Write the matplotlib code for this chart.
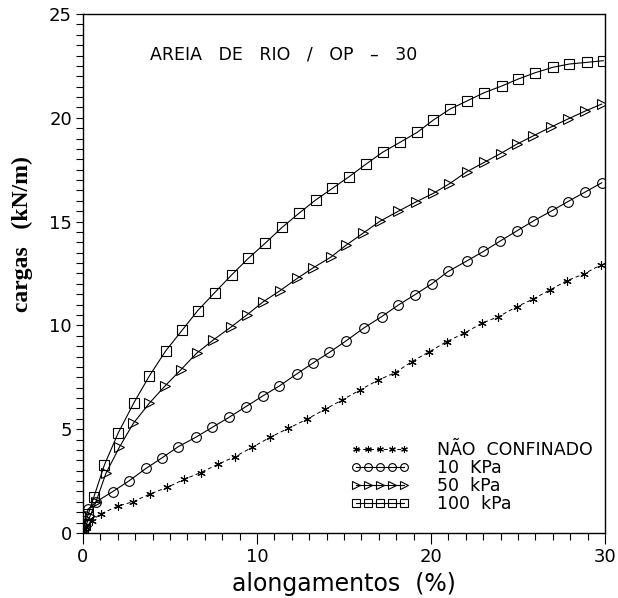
import matplotlib
matplotlib.use("Agg")
import matplotlib.pyplot as plt
from matplotlib.ticker import MultipleLocator

# alongamentos (%) / cargas (kN/m)
x_nc = [0, 0.2, 0.5, 1.01, 2.03, 2.89, 3.85, 4.85, 5.80, 6.76, 7.78, 8.74, 9.73, 10.75,
        11.80, 12.86, 13.91, 14.90, 15.92, 16.97, 17.93, 18.89, 19.90, 20.90, 21.90,
        22.91, 23.87, 24.93, 25.84, 26.84, 27.80, 28.79, 29.75]
y_nc = [0, 0.3, 0.6, 0.92, 1.30, 1.51, 1.88, 2.20, 2.58, 2.91, 3.32, 3.68, 4.13, 4.61,
        5.04, 5.48, 5.96, 6.41, 6.89, 7.37, 7.72, 8.25, 8.73, 9.22, 9.62,
        10.10, 10.42, 10.90, 11.26, 11.71, 12.15, 12.48, 12.91]

x_10 = [0, 0.1, 0.3, 0.75, 1.70, 2.66, 3.62, 4.56, 5.48, 6.48, 7.43, 8.39, 9.35, 10.33,
        11.28, 12.28, 13.24, 14.16, 15.11, 16.15, 17.16, 18.12, 19.08, 20.04, 20.99,
        22.05, 23.01, 23.97, 24.93, 25.88, 26.94, 27.86, 28.85, 29.81]
y_10 = [0, 0.6, 1.15, 1.50, 1.99, 2.52, 3.11, 3.63, 4.16, 4.61, 5.09, 5.57, 6.08, 6.60,
        7.08, 7.66, 8.20, 8.70, 9.25, 9.88, 10.42, 10.98, 11.48, 12.00, 12.60,
        13.10, 13.56, 14.06, 14.55, 15.03, 15.52, 15.96, 16.42, 16.87]

x_50 = [0, 0.15, 0.4, 0.75, 1.32, 2.09, 2.89, 3.81, 4.71, 5.61, 6.53, 7.49, 8.49, 9.41,
        10.36, 11.32, 12.32, 13.24, 14.23, 15.10, 16.11, 17.07, 18.12, 19.14, 20.13,
        21.05, 22.05, 23.05, 24.00, 24.93, 25.88, 26.88, 27.89, 28.85, 29.81]
y_50 = [0, 0.35, 0.8, 1.51, 2.88, 4.13, 5.28, 6.25, 7.08, 7.85, 8.66, 9.30, 9.91, 10.50,
        11.14, 11.67, 12.27, 12.78, 13.28, 13.85, 14.45, 15.02, 15.50, 15.95, 16.36,
        16.82, 17.40, 17.85, 18.28, 18.73, 19.13, 19.55, 19.95, 20.32, 20.66]

x_100 = [0, 0.1, 0.3, 0.63, 1.23, 2.03, 2.93, 3.81, 4.75, 5.71, 6.59, 7.57, 8.54, 9.50,
         10.46, 11.44, 12.41, 13.37, 14.33, 15.29, 16.25, 17.22, 18.22, 19.21, 20.13,
         21.09, 22.09, 23.06, 24.06, 25.02, 25.98, 26.99, 27.95, 28.95, 29.90]
y_100 = [0, 0.4, 0.9, 1.75, 3.28, 4.83, 6.28, 7.56, 8.77, 9.78, 10.71, 11.58, 12.43, 13.23,
         13.95, 14.72, 15.40, 16.04, 16.60, 17.16, 17.76, 18.34, 18.82, 19.30, 19.89,
         20.42, 20.82, 21.21, 21.53, 21.87, 22.17, 22.43, 22.59, 22.67, 22.75]

labels = ["NÃO  CONFINADO", "10  KPa", "50  kPa", "100  kPa"]

plt.rcParams["font.family"] = ["DejaVu Sans"]

fig = plt.figure(figsize=(6.18, 5.98), dpi=100)
ax = fig.add_axes([0.1343, 0.1087, 0.8447, 0.8679])

ax.plot(x_nc, y_nc, linestyle=(0, (4, 3)), color="black", linewidth=0.7,
        marker=(6, 2, 0), markersize=6, markeredgewidth=0.8, label=labels[0])
ax.plot(x_10, y_10, color="black", linewidth=0.8, marker="o", markersize=7,
        markerfacecolor="none", markeredgewidth=0.8, label=labels[1])
ax.plot(x_50, y_50, color="black", linewidth=0.8, marker=">", markersize=7,
        markerfacecolor="none", markeredgewidth=0.8, label=labels[2])
ax.plot(x_100, y_100, color="black", linewidth=0.8, marker="s", markersize=7,
        markerfacecolor="none", markeredgewidth=0.8, label=labels[3])

ax.set_xlim(0, 30)
ax.set_ylim(0, 25)
ax.xaxis.set_major_locator(MultipleLocator(10))
ax.xaxis.set_minor_locator(MultipleLocator(1))
ax.yaxis.set_major_locator(MultipleLocator(5))
ax.yaxis.set_minor_locator(MultipleLocator(0.5))
ax.tick_params(axis="x", which="major", direction="out", length=8, width=0.8,
               labelsize=13, pad=3)
ax.tick_params(axis="x", which="minor", direction="out", length=5, width=0.8)
ax.tick_params(axis="y", which="both", direction="out", length=5, width=0.8,
               labelsize=13, pad=3)
for s in ax.spines.values():
    s.set_linewidth(1.0)

ax.set_xlabel("alongamentos  (%)", fontsize=17, labelpad=4)
fig.text(0.037, 0.609, "cargas   (kN/m)", fontsize=17, fontweight="bold",
         family="Liberation Serif", rotation=90, ha="center", va="center")

ax.text(3.85, 23.07, "AREIA   DE   RIO   /   OP   –   30", fontsize=12.5,
        va="center", ha="left")

ax.legend(loc="lower right", bbox_to_anchor=(1.0, 0.015), numpoints=5,
          handlelength=3.4, handletextpad=1.6, labelspacing=0.0, frameon=False,
          fontsize=12.5, markerscale=0.8, borderaxespad=0.3)

fig.savefig("out.png", dpi=100)
